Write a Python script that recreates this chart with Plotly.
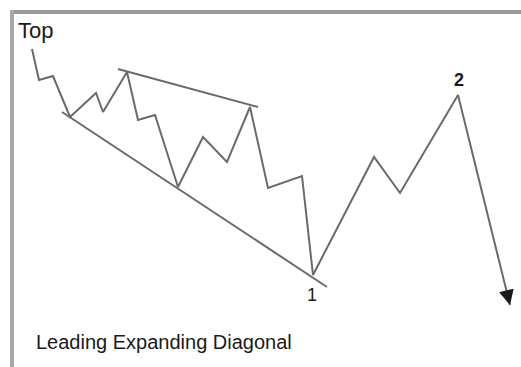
import numpy as np
import plotly.graph_objects as go

# Wave path: time index and price level of each turning point
wave_t = [32, 39, 53, 70, 96, 103, 127, 138, 155, 178, 203, 227, 250, 268, 302, 313, 374, 400, 458, 510]
wave_p = [318, 287, 291, 250, 274, 255, 295, 247, 252, 180, 230, 205, 260, 179, 191, 92, 210, 174, 272, 62]

# Boundary lines of the expanding diagonal
upper_t = [118, 258]
upper_p = [298, 260]
lower_t = [62, 327]
lower_p = [255, 80]

# Wave labels
label_text = ["1", "2"]
label_t = [312, 459]
label_p = [72, 287]

LINE = "#6a6a6a"
DARK = "#1a1a1a"
FONT = "Liberation Sans, Arial, sans-serif"

fig = go.Figure()

fig.add_trace(go.Scatter(x=upper_t, y=upper_p, mode="lines",
                         line=dict(color=LINE, width=2), hoverinfo="skip"))
fig.add_trace(go.Scatter(x=lower_t, y=lower_p, mode="lines",
                         line=dict(color=LINE, width=2), hoverinfo="skip"))
fig.add_trace(go.Scatter(x=wave_t, y=wave_p, mode="lines",
                         line=dict(color=LINE, width=2), hoverinfo="skip"))

# Arrowhead on the final leg, pointing along its direction
tip = np.array([wave_t[-1], wave_p[-1]], dtype=float)
prev = np.array([wave_t[-2], wave_p[-2]], dtype=float)
unit = (tip - prev) / np.linalg.norm(tip - prev)
tail = tip - unit * 16
fig.add_annotation(x=tip[0], y=tip[1], ax=tail[0], ay=tail[1],
                   xref="x", yref="y", axref="x", ayref="y",
                   showarrow=True, arrowhead=2, arrowsize=1.5,
                   arrowwidth=2, arrowcolor=DARK, text="", standoff=0)

for txt, t, p, bold in zip(label_text, label_t, label_p, [False, True]):
    fig.add_annotation(x=t, y=p, text=f"<b>{txt}</b>" if bold else txt,
                       showarrow=False, xanchor="center", yanchor="middle",
                       font=dict(family=FONT, size=18, color=DARK))

fig.add_annotation(x=16, y=351, text="Top", showarrow=False,
                   xanchor="left", yanchor="top",
                   font=dict(family=FONT, size=22, color=DARK))
fig.add_annotation(x=34, y=25, text="Leading Expanding Diagonal", showarrow=False,
                   xanchor="left", yanchor="middle",
                   font=dict(family=FONT, size=20, color=DARK))

# Panel frame (top and left edges)
fig.add_shape(type="line", xref="paper", yref="paper", x0=10 / 521, x1=1,
              y0=1 - 12 / 367, y1=1 - 12 / 367, line=dict(color="#9a9a9a", width=4))
fig.add_shape(type="line", xref="paper", yref="paper", x0=12 / 521, x1=12 / 521,
              y0=0, y1=1 - 10 / 367, line=dict(color="#a8a8a8", width=4))

fig.update_layout(
    width=521, height=367,
    margin=dict(l=0, r=0, t=0, b=0),
    paper_bgcolor="white", plot_bgcolor="white",
    showlegend=False,
    xaxis=dict(range=[0, 521], visible=False, fixedrange=True),
    yaxis=dict(range=[0, 367], visible=False, fixedrange=True),
)

fig.write_html("out.html")
